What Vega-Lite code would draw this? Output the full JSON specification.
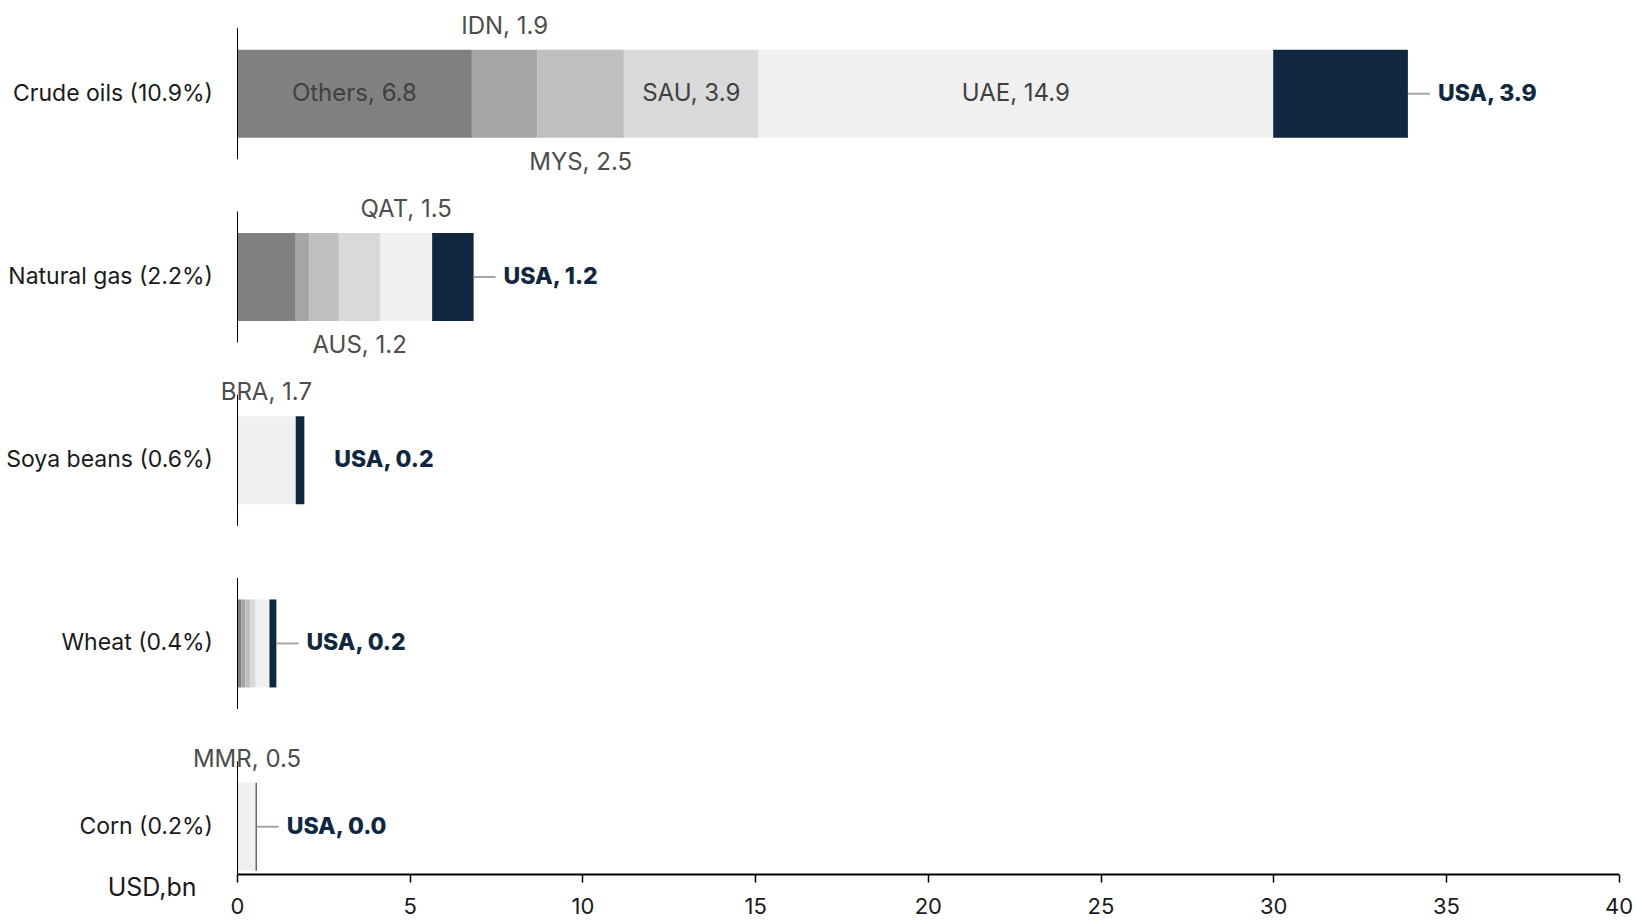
{
  "$schema": "https://vega.github.io/schema/vega-lite/v6.json",
  "width": 1381.6,
  "height": 874,
  "autosize": {"type": "none"},
  "padding": {"left": 237, "top": 0, "right": 18.4, "bottom": 47},
  "background": "white",
  "config": {"view": {"stroke": null}, "font": "Inter"},
  "data": {
    "values": [
      {"category": "Crude oils (10.9%)", "country": "Others", "value": 6.8, "rank": 0, "label": "Others, 6.8"},
      {"category": "Crude oils (10.9%)", "country": "IDN", "value": 1.9, "rank": 1, "label": "IDN, 1.9"},
      {"category": "Crude oils (10.9%)", "country": "MYS", "value": 2.5, "rank": 2, "label": "MYS, 2.5"},
      {"category": "Crude oils (10.9%)", "country": "SAU", "value": 3.9, "rank": 3, "label": "SAU, 3.9"},
      {"category": "Crude oils (10.9%)", "country": "UAE", "value": 14.9, "rank": 4, "label": "UAE, 14.9"},
      {"category": "Crude oils (10.9%)", "country": "USA", "value": 3.9, "rank": 5, "label": "USA, 3.9"},
      {"category": "Natural gas (2.2%)", "country": "Others", "value": 1.7, "rank": 0, "label": ""},
      {"category": "Natural gas (2.2%)", "country": "", "value": 0.4, "rank": 1, "label": ""},
      {"category": "Natural gas (2.2%)", "country": "", "value": 0.85, "rank": 2, "label": ""},
      {"category": "Natural gas (2.2%)", "country": "AUS", "value": 1.2, "rank": 3, "label": "AUS, 1.2"},
      {"category": "Natural gas (2.2%)", "country": "QAT", "value": 1.5, "rank": 4, "label": "QAT, 1.5"},
      {"category": "Natural gas (2.2%)", "country": "USA", "value": 1.2, "rank": 5, "label": "USA, 1.2"},
      {"category": "Soya beans (0.6%)", "country": "BRA", "value": 1.7, "rank": 4, "label": "BRA, 1.7"},
      {"category": "Soya beans (0.6%)", "country": "USA", "value": 0.25, "rank": 5, "label": "USA, 0.2"},
      {"category": "Wheat (0.4%)", "country": "Others", "value": 0.12, "rank": 0, "label": ""},
      {"category": "Wheat (0.4%)", "country": "", "value": 0.12, "rank": 1, "label": ""},
      {"category": "Wheat (0.4%)", "country": "", "value": 0.15, "rank": 2, "label": ""},
      {"category": "Wheat (0.4%)", "country": "", "value": 0.15, "rank": 3, "label": ""},
      {"category": "Wheat (0.4%)", "country": "", "value": 0.4, "rank": 4, "label": ""},
      {"category": "Wheat (0.4%)", "country": "USA", "value": 0.2, "rank": 5, "label": "USA, 0.2"},
      {"category": "Corn (0.2%)", "country": "Others", "value": 0.04, "rank": 0, "label": ""},
      {"category": "Corn (0.2%)", "country": "MMR", "value": 0.5, "rank": 4, "label": "MMR, 0.5"},
      {"category": "Corn (0.2%)", "country": "USA", "value": 0.03, "rank": 5, "label": "USA, 0.0"}
    ]
  },
  "transform": [
    {"stack": "value", "groupby": ["category"], "sort": [{"field": "rank", "order": "ascending"}], "as": ["x0", "x1"]},
    {"calculate": "(datum.x0 + datum.x1) / 2", "as": "mid"}
  ],
  "encoding": {
    "y": {
      "field": "category",
      "type": "nominal",
      "sort": ["Crude oils (10.9%)", "Natural gas (2.2%)", "Soya beans (0.6%)", "Wheat (0.4%)", "Corn (0.2%)"],
      "axis": null,
      "scale": {"paddingInner": 0.5, "paddingOuter": 0.1348, "align": 0.97}
    }
  },
  "layer": [
    {
      "mark": {"type": "bar", "size": 88, "clip": true},
      "encoding": {
        "x": {
          "field": "x0",
          "type": "quantitative",
          "scale": {"domain": [0, 40], "nice": false, "zero": true},
          "axis": {
            "values": [0, 5, 10, 15, 20, 25, 30, 35, 40],
            "grid": false,
            "domainColor": "#000000",
            "domainWidth": 2,
            "tickColor": "#000000",
            "tickSize": 8,
            "tickWidth": 1.5,
            "labelFontSize": 22,
            "labelColor": "#1a1a1a",
            "labelPadding": 14,
            "labelFlush": false,
            "title": "USD,bn",
            "titleFontSize": 25,
            "titleFontWeight": "normal",
            "titleColor": "#1a1a1a",
            "titleX": -41,
            "titleY": 21,
            "titleAlign": "right",
            "titleBaseline": "alphabetic"
          }
        },
        "x2": {"field": "x1"},
        "color": {
          "field": "rank",
          "type": "ordinal",
          "scale": {"domain": [0, 1, 2, 3, 4, 5], "range": ["#808080", "#a6a6a6", "#bfbfbf", "#d9d9d9", "#f0f0f0", "#10283f"]},
          "legend": null
        }
      }
    },
    {
      "transform": [{"filter": "datum.country == 'USA'"}],
      "mark": {"type": "tick", "size": 131, "thickness": 2, "color": "#000000", "opacity": 1, "clip": true},
      "encoding": {"x": {"datum": 0}}
    },
    {
      "transform": [{"filter": "datum.country == 'USA' && datum.category != 'Soya beans (0.6%)'"}],
      "mark": {"type": "rule", "x2Offset": 22, "color": "#a6a6a6", "strokeWidth": 2},
      "encoding": {"x": {"field": "x1", "type": "quantitative"}, "x2": {"field": "x1"}}
    },
    {
      "transform": [{"filter": "datum.country == 'USA'"}],
      "mark": {"type": "text", "align": "left", "baseline": "middle", "dx": 30, "fontSize": 23, "fontWeight": 800, "color": "#10283f"},
      "encoding": {"x": {"field": "x1", "type": "quantitative"}, "text": {"field": "label"}}
    },
    {
      "transform": [{"filter": "datum.category == 'Crude oils (10.9%)' && indexof(['Others','SAU','UAE'], datum.country) >= 0"}],
      "mark": {"type": "text", "align": "center", "baseline": "middle", "fontSize": 24, "color": "#404040"},
      "encoding": {"x": {"field": "mid", "type": "quantitative"}, "text": {"field": "label"}}
    },
    {
      "transform": [{"filter": "indexof(['IDN','QAT','BRA','MMR'], datum.country) >= 0"}],
      "mark": {"type": "text", "align": "center", "baseline": "alphabetic", "dy": -60, "fontSize": 24, "color": "#4d4d4d"},
      "encoding": {"x": {"field": "mid", "type": "quantitative"}, "text": {"field": "label"}}
    },
    {
      "transform": [{"filter": "indexof(['MYS','AUS'], datum.country) >= 0"}],
      "mark": {"type": "text", "align": "center", "baseline": "alphabetic", "dy": 76, "fontSize": 24, "color": "#4d4d4d"},
      "encoding": {"x": {"field": "mid", "type": "quantitative"}, "text": {"field": "label"}}
    },
    {
      "transform": [{"filter": "datum.country == 'USA'"}],
      "mark": {"type": "text", "align": "right", "baseline": "middle", "dx": -24, "fontSize": 23, "color": "#1a1a1a"},
      "encoding": {"x": {"datum": 0}, "text": {"field": "category"}}
    }
  ]
}
